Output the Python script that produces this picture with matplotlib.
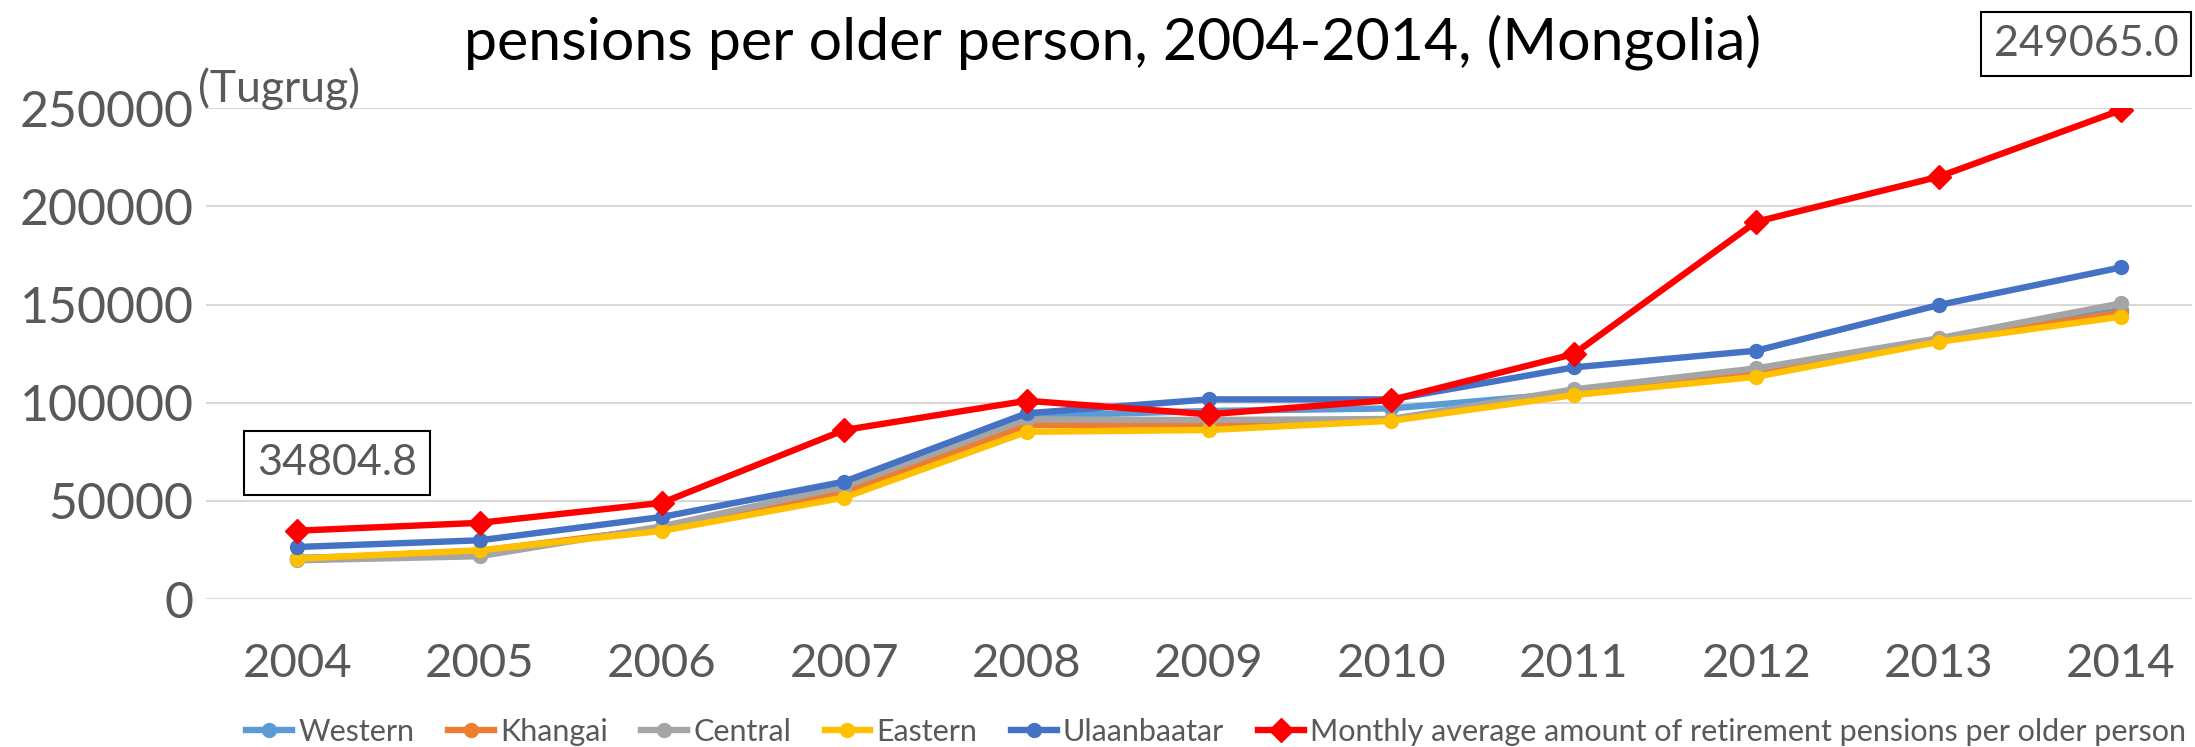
import matplotlib
matplotlib.use('Agg')
import matplotlib.pyplot as plt
import numpy as np

plt.rcParams['font.family'] = ['Lato', 'DejaVu Sans']

years = ['2004', '2005', '2006', '2007', '2008', '2009', '2010', '2011', '2012', '2013', '2014']
western = [21000, 23000, 36500, 56000, 93200, 95800, 97100, 105000, 115500, 132000, 147200]
khangai = [20500, 24500, 36000, 54500, 88600, 89000, 91000, 104500, 115000, 131500, 146000]
central = [19700, 21800, 37000, 57300, 91500, 91200, 91700, 106800, 117500, 132800, 150600]
eastern = [20600, 24800, 34700, 51700, 85200, 86100, 90800, 103900, 113200, 131000, 143800]
ulaanbaatar = [26500, 29900, 41800, 59800, 94600, 101700, 101700, 118000, 126500, 149750, 168900]
monthly_avg = [34804.8, 38800, 49000, 86100, 101000, 94100, 101400, 124800, 192200, 215100, 249065.0]

names = ['Western', 'Khangai', 'Central', 'Eastern', 'Ulaanbaatar',
         'Monthly average amount of retirement pensions per older person']
colors = ['#5B9BD5', '#ED7D31', '#A5A5A5', '#FFC000', '#4472C4', '#FF0000']
series = [western, khangai, central, eastern, ulaanbaatar, monthly_avg]

W, H = 2195, 747
fig = plt.figure(figsize=(W/100, H/100), dpi=100)
ax = fig.add_axes([206/W, 1-599/H, (2192-206)/W, (599-108.3)/H])

x = np.arange(len(years))
handles = []
for s, c, n in zip(series, colors, names):
    if n.startswith('Monthly'):
        h, = ax.plot(x, s, color=c, lw=4.6, marker='D', ms=12, label=n, zorder=5)
    else:
        h, = ax.plot(x, s, color=c, lw=4.6, marker='o', ms=10, label=n, zorder=3)
    handles.append(h)

ax.set_xlim(-0.5, 10.39)
ax.set_ylim(0, 250000)
ax.set_yticks(np.arange(0, 250001, 50000))
ax.set_xticks(x)
ax.set_xticklabels(years)
ax.grid(axis='y', color='#D9D9D9', lw=1.5)
ax.set_axisbelow(True)
for sp in ax.spines.values():
    sp.set_visible(False)
ax.tick_params(axis='both', length=0, colors='#595959')
ax.tick_params(axis='y', pad=9, labelsize=36)
ax.tick_params(axis='x', pad=32, labelsize=34)

fig.text(1113/W, 1-42/H, 'pensions per older person, 2004-2014, (Mongolia)',
         ha='center', va='center', fontsize=42.5, color='black')
fig.text(198/W, 1-89/H, '(Tugrug)', ha='left', va='center', fontsize=32, color='#595959')

box = dict(boxstyle='square,pad=0.3', fc='white', ec='black', lw=1.5)
fig.text(337/W, 1-463/H, f'{monthly_avg[0]:.1f}', ha='center', va='center',
         fontsize=31, color='#595959', bbox=box)
fig.text(2086/W, 1-44/H, f'{monthly_avg[-1]:.1f}', ha='center', va='center',
         fontsize=31, color='#595959', bbox=box)

leg = fig.legend(handles=handles, loc='center', bbox_to_anchor=(1216/W, 15/H), ncol=6,
                 frameon=False, fontsize=22, labelcolor='#595959', handlelength=1.5,
                 handletextpad=0.2, columnspacing=1.1, borderaxespad=0)

fig.savefig('out.png', dpi=100)
